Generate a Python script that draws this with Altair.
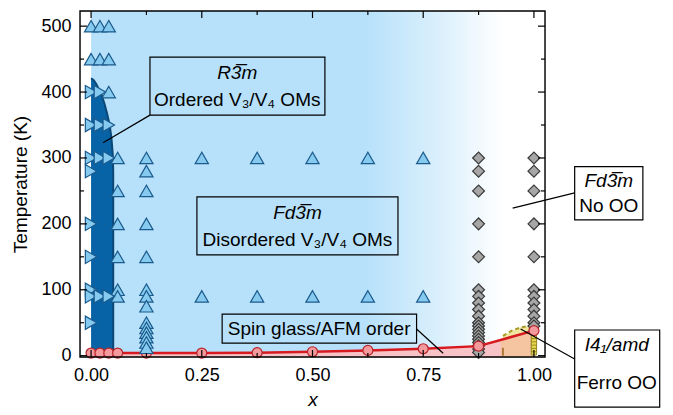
import altair as alt
import pandas as pd

# ---------------- data ----------------
X_MAJOR = [0.0, 0.25, 0.5, 0.75, 1.0]
X_MINOR = [0.125, 0.375, 0.625, 0.875]
Y_MAJOR = [0, 100, 200, 300, 400, 500]
Y_MINOR = [50, 150, 250, 350, 450]

X_DOMAIN = [-0.025, 1.025]
Y_DOMAIN = [-2, 523]

# R-3m (ordered V3/V4) region boundary
r3m_x = [0.0, 0.006, 0.012, 0.018, 0.024, 0.030, 0.036, 0.042, 0.046, 0.049, 0.050, 0.050]
r3m_T = [421, 418, 412, 404, 395, 383, 368, 350, 330, 305, 280, 0]

# spin glass / AFM transition (circles + red line)
sg_x = [0.0, 0.02, 0.04, 0.06, 0.125, 0.25, 0.375, 0.5, 0.625, 0.75, 0.875, 1.0]
sg_T = [4, 4, 4, 4, 4, 4, 4.5, 6, 8, 10.5, 14.5, 38]

# I4_1/amd region (peach) and its dashed boundary
peach_x = [0.925, 1.0]
peach_T = [24, 38]
oo_x = [0.93, 0.95, 0.97, 0.99]
oo_T = [30, 38, 43, 45]
oo_low = [25, 28.6, 32.3, 36]
ladder_T = [5, 10, 15, 20, 25, 30]

# measured points: triangle-up (Fd-3m)
up_x0 = [500, 450]
up_x002 = [500, 450]
up_x004 = [500, 450, 400]
up_x006 = [300, 250, 200, 150, 100, 90]
up_x0125 = [300, 280, 250, 200, 150, 100, 90, 75, 50, 42, 35, 28, 20, 12]
up_rest_x = [0.25, 0.375, 0.5, 0.625, 0.75]
up_rest_T = [300, 90]

# triangle-right (R-3m)
right_x0 = [400, 350, 300, 280, 200, 150, 100, 90, 50]
right_x002 = [400, 350, 300, 90]
right_x004 = [350, 300, 90]

# diamonds (no orbital order)
dia_x0875 = [300, 280, 250, 200, 150, 100, 90, 80, 70, 60, 50, 45, 40, 35, 30, 25, 20, 15, 10, 5]
dia_x1 = [300, 280, 250, 200, 150, 100, 90, 80, 70, 60, 50, 45]

# ---------------- styles ----------------
W, H = 465, 346
FONT = "Liberation Sans"
BLUE_BG = "#b7e1fa"
DARK = "#0763a6"
EDGE = "#0b4878"
TRI_FILL = "#86cbef"
TRI_EDGE = "#1b5a8c"
PINK = "#f7c3c6"
RED = "#d71920"
CIRC_FILL = "#f59a9c"
CIRC_EDGE = "#b8242b"
DIAM_FILL = "#a6a6a6"
DIAM_EDGE = "#3a3a3a"
PEACH = "#f5c4a1"
ANN_SIZE = 19

xs = alt.Scale(domain=X_DOMAIN, nice=False, zero=False)
ys = alt.Scale(domain=Y_DOMAIN, nice=False, zero=False)

XAX = alt.Axis(
    values=X_MAJOR, format=".2f", ticks=False, tickSize=0, domain=False, grid=False,
    labelFontSize=18, labelPadding=9, labelColor="black", labelFont=FONT, title="x",
    titleFontStyle="italic", titleFontSize=19, titleFontWeight="normal", titleFont=FONT,
    titlePadding=6, titleColor="black")
YAX = alt.Axis(
    values=Y_MAJOR, ticks=False, tickSize=0, domain=False, grid=False,
    labelFontSize=18, labelPadding=9, labelColor="black", labelFont=FONT,
    title="Temperature (K)", titleFontSize=19, titleFontWeight="normal", titleFont=FONT,
    titlePadding=10, titleColor="black")


def X(f):
    return alt.X(f, scale=xs, axis=XAX, title="x")


def Y(f):
    return alt.Y(f, scale=ys, axis=YAX, title="Temperature (K)")


def pts(pairs):
    rows = []
    for x, Ts in pairs:
        for t in Ts:
            rows.append({"x": x, "T": t})
    return pd.DataFrame(rows)


# background gradient
bg_df = pd.DataFrame({"x0": [0.0], "x1": [1.0], "y0": [Y_DOMAIN[0]], "y1": [Y_DOMAIN[1]]})
grad = alt.Gradient(
    gradient="linear",
    stops=[
        alt.GradientStop(offset=0, color=BLUE_BG),
        alt.GradientStop(offset=0.62, color=BLUE_BG),
        alt.GradientStop(offset=0.78, color="#d9effc"),
        alt.GradientStop(offset=0.93, color="#ffffff"),
        alt.GradientStop(offset=1, color="#ffffff"),
    ],
    x1=0, x2=1, y1=0, y2=0,
)
bg = alt.Chart(bg_df).mark_rect(fill=grad).encode(
    x=X("x0:Q"), x2="x1:Q", y=Y("y0:Q"), y2="y1:Q")

r3m_df = pd.DataFrame({"x": r3m_x, "T": r3m_T, "i": range(len(r3m_x))})
r3m_area = alt.Chart(r3m_df).mark_area(orient="horizontal", color=DARK).encode(
    y=Y("T:Q"), x=X("x:Q"), x2=alt.datum(0))
r3m_edge = alt.Chart(r3m_df).mark_line(color=EDGE, strokeWidth=2).encode(
    x=X("x:Q"), y=Y("T:Q"), order="i:Q")

sg_df = pd.DataFrame({"x": sg_x, "T": sg_T})
pink = alt.Chart(sg_df).mark_area(color=PINK).encode(
    x=X("x:Q"), y=Y("T:Q"), y2=alt.datum(Y_DOMAIN[0]))
peach = alt.Chart(pd.DataFrame({"x": peach_x, "T": peach_T})).mark_area(color=PEACH).encode(
    x=X("x:Q"), y=Y("T:Q"), y2=alt.datum(Y_DOMAIN[0]))
oo_df = pd.DataFrame({"x": oo_x, "T": oo_T, "lo": oo_low})
oo_fill = alt.Chart(oo_df).mark_area(color="#efe6a0").encode(
    x=X("x:Q"), y=Y("T:Q"), y2="lo:Q")
oo_line = alt.Chart(oo_df).mark_line(color="#a89b2a", strokeWidth=2, strokeDash=[4, 3]).encode(
    x=X("x:Q"), y=Y("T:Q"))
brown = alt.Chart(pd.DataFrame({"x": [0.93], "T0": [0], "T1": [12]})).mark_rule(
    color="#b07a3a", strokeWidth=2).encode(x=X("x:Q"), y=Y("T0:Q"), y2="T1:Q")
ladder = alt.Chart(pd.DataFrame({"x": [1.0] * len(ladder_T), "T": ladder_T})).mark_point(
    shape="square", filled=True, fill="#e6d64a", stroke="#8a7a20", strokeWidth=0.8,
    size=28, opacity=1).encode(x=X("x:Q"), y=Y("T:Q"))

red_line = alt.Chart(sg_df).mark_line(color=RED, strokeWidth=2.5).encode(
    x=X("x:Q"), y=Y("T:Q"))
circles = alt.Chart(sg_df).mark_point(
    shape="circle", filled=True, fill=CIRC_FILL, stroke=CIRC_EDGE, strokeWidth=1.2,
    size=100, opacity=1).encode(x=X("x:Q"), y=Y("T:Q"))

dia_df = pts([(0.875, dia_x0875), (1.0, dia_x1)])
diamonds = alt.Chart(dia_df).mark_point(
    shape="diamond", filled=True, fill=DIAM_FILL, stroke=DIAM_EDGE, strokeWidth=1.2,
    size=140, opacity=1).encode(x=X("x:Q"), y=Y("T:Q"))

up_df = pts([(0.0, up_x0), (0.02, up_x002), (0.04, up_x004), (0.06, up_x006),
             (0.125, up_x0125)] + [(x, up_rest_T) for x in up_rest_x])
tri_up = alt.Chart(up_df).mark_point(
    shape="triangle-up", filled=True, fill=TRI_FILL, stroke=TRI_EDGE, strokeWidth=1.2,
    size=175, opacity=1).encode(x=X("x:Q"), y=Y("T:Q"))
right_df = pts([(0.0, right_x0), (0.02, right_x002), (0.04, right_x004)])
tri_right = alt.Chart(right_df).mark_point(
    shape="triangle-right", filled=True, fill=TRI_FILL, stroke=TRI_EDGE, strokeWidth=1.2,
    size=175, opacity=1).encode(x=X("x:Q"), y=Y("T:Q"))

# ---------------- annotations ----------------
box_df = pd.DataFrame({
    "x0": [0.133, 0.239, 0.296, 1.092, 1.092],
    "x1": [0.528, 0.693, 0.735, 1.246, 1.284],
    "T0": [453, 241, 63, 287, 39],
    "T1": [365, 153, 19, 206, -78],
})
boxes = alt.Chart(box_df).mark_rect(fillOpacity=0, stroke="black", strokeWidth=1.2).encode(
    x=X("x0:Q"), x2="x1:Q", y=Y("T0:Q"), y2="T1:Q")

lead_df = pd.DataFrame({
    "x0": [0.133, 0.735, 1.092, 1.092],
    "T0": [365, 40.5, 247, -5],
    "x1": [0.027, 0.795, 0.952, 0.97],
    "T1": [323, 3.6, 224, 40.5],
})
leaders = alt.Chart(lead_df).mark_rule(color="black", strokeWidth=1.2).encode(
    x=X("x0:Q"), y=Y("T0:Q"), x2="x1:Q", y2="T1:Q")

it_df = pd.DataFrame({
    "t": ["R3\u0305m", "Fd3\u0305m", "Fd3\u0305m", "I4\u2081/amd"],
    "x": [0.33, 0.466, 1.169, 1.187],
    "T": [429, 216.5, 265, 16],
})
txt_it = alt.Chart(it_df).mark_text(font=FONT, fontSize=ANN_SIZE, fontStyle="italic",
                                    color="black", baseline="middle").encode(
    x=X("x:Q"), y=Y("T:Q"), text="t:N")
nm_df = pd.DataFrame({
    "t": ["Ordered V\u2083/V\u2084 OMs", "Disordered V\u2083/V\u2084 OMs",
          "Spin glass/AFM order", "No OO", "Ferro OO"],
    "x": [0.33, 0.466, 0.515, 1.169, 1.187],
    "T": [388, 175.6, 40.5, 227, -41.5],
})
txt_nm = alt.Chart(nm_df).mark_text(font=FONT, fontSize=ANN_SIZE, color="black",
                                    baseline="middle").encode(
    x=X("x:Q"), y=Y("T:Q"), text="t:N")

# ---------------- inward ticks and frame ----------------
def ticks(vals, side, length):
    df = pd.DataFrame({"v": vals})
    c = alt.Chart(df).mark_rule(color="black", strokeWidth=1.2)
    if side == "bottom":
        return c.encode(x=X("v:Q"), y=alt.value(H), y2=alt.value(H - length))
    if side == "top":
        return c.encode(x=X("v:Q"), y=alt.value(0), y2=alt.value(length))
    if side == "left":
        return c.encode(y=Y("v:Q"), x=alt.value(0), x2=alt.value(length))
    return c.encode(y=Y("v:Q"), x=alt.value(W), x2=alt.value(W - length))


tick_layers = []
for side in ["bottom", "top"]:
    tick_layers.append(ticks(X_MAJOR, side, 7))
    tick_layers.append(ticks(X_MINOR, side, 4))
for side in ["left", "right"]:
    tick_layers.append(ticks(Y_MAJOR, side, 7))
    tick_layers.append(ticks(Y_MINOR, side, 4))

frame = alt.Chart(pd.DataFrame({"a": [0]})).mark_rect(
    fillOpacity=0, stroke="black", strokeWidth=1.4).encode(
    x=alt.value(0), x2=alt.value(W), y=alt.value(0), y2=alt.value(H))

chart = alt.layer(
    bg, r3m_area, r3m_edge, pink, peach, oo_fill, oo_line, brown, ladder,
    diamonds, red_line, circles, tri_up, tri_right,
    boxes, leaders, txt_it, txt_nm, *tick_layers, frame,
).properties(
    width=W, height=H,
    autosize=alt.AutoSizeParams(type="none"),
    padding={"left": 72, "top": 3, "right": 120, "bottom": 58},
).configure_view(stroke=None).configure(font=FONT)

chart.save("out.html", embed_options={"renderer": "svg", "actions": False})
